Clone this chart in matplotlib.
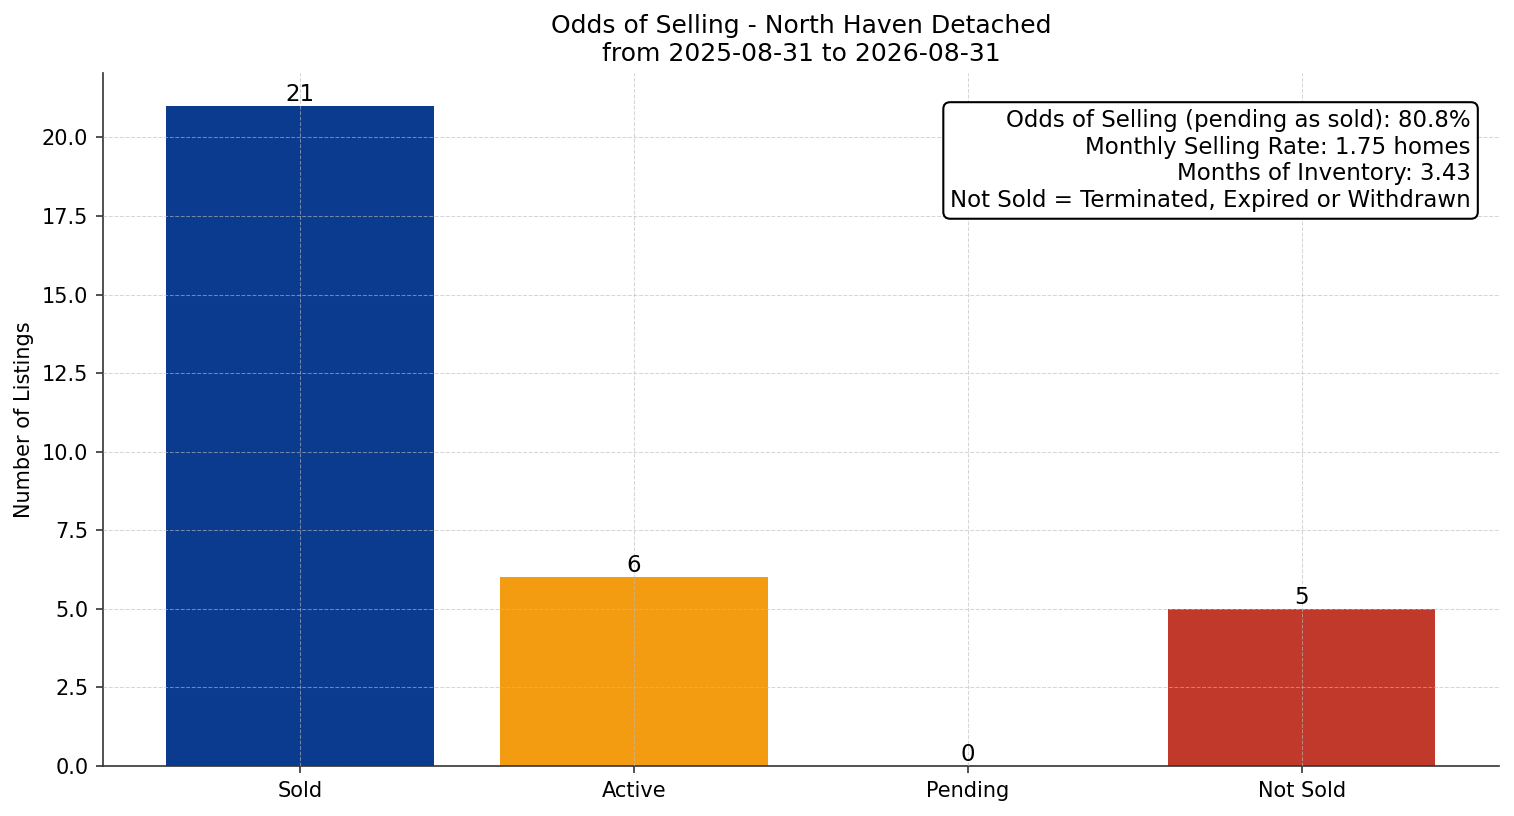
import matplotlib
matplotlib.use("Agg")
import matplotlib.pyplot as plt

# Listing status counts
categories = ["Sold", "Active", "Pending", "Not Sold"]
counts = [21, 6, 0, 5]
bar_colors = ["#0b3b8f", "#f39c12", "#f1c40f", "#c0392b"]

area = "North Haven Detached"
start_date = "2025-08-31"
end_date = "2026-08-31"
odds_pct = 80.8
monthly_rate = 1.75
months_inventory = 3.43

fig, ax = plt.subplots(figsize=(1514 / 150, 816 / 150), dpi=150)
fig.subplots_adjust(left=0.068, right=0.990, top=0.9105, bottom=0.0613)

bars = ax.bar(categories, counts, color=bar_colors, width=0.8, zorder=1)

# value labels on top of each bar
for b, v in zip(bars, counts):
    ax.text(b.get_x() + b.get_width() / 2, b.get_height(), str(v),
            ha="center", va="bottom", fontsize=11)

ax.set_ylim(0, max(counts) * 1.05)
ax.set_ylabel("Number of Listings", fontsize=10)
ax.set_title(f"Odds of Selling - {area}\nfrom {start_date} to {end_date}", fontsize=12)
ax.tick_params(axis="both", labelsize=10, color="#333333")
ax.set_axisbelow(False)
ax.grid(True, linestyle="--", color="#bbbbbb", linewidth=0.5, alpha=0.6, zorder=3)
ax.spines["top"].set_visible(False)
ax.spines["right"].set_visible(False)
for s in ("left", "bottom"):
    ax.spines[s].set_color("#333333")

info = (f"Odds of Selling (pending as sold): {odds_pct}%\n"
        f"Monthly Selling Rate: {monthly_rate:.2f} homes\n"
        f"Months of Inventory: {months_inventory:.2f}\n"
        "Not Sold = Terminated, Expired or Withdrawn")
ax.text(0.98, 0.948, info, transform=ax.transAxes, ha="right", va="top",
        fontsize=11, zorder=5,
        bbox=dict(boxstyle="round,pad=0.3", facecolor="white", edgecolor="black", linewidth=1))

fig.savefig("out.png", dpi=150)
